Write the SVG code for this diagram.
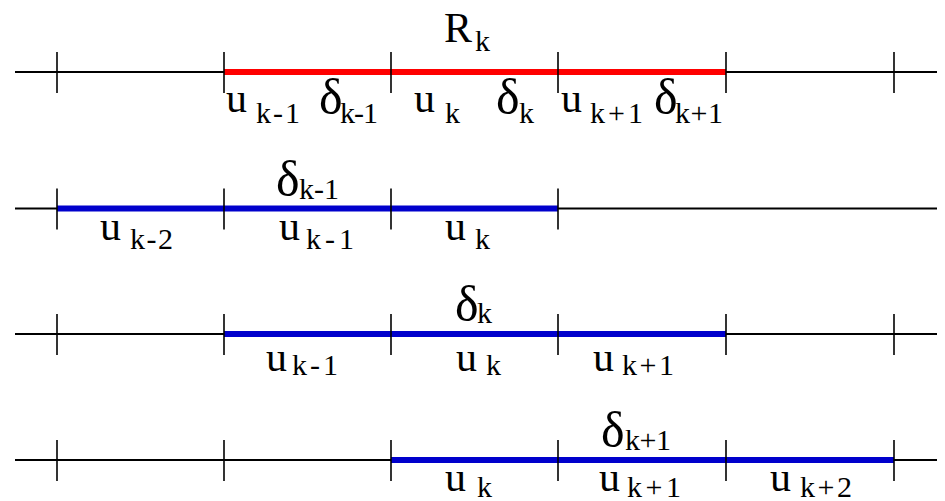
<svg xmlns="http://www.w3.org/2000/svg" width="945" height="501" viewBox="0 0 945 501">
<style>
.axis{stroke:#000;stroke-width:2;fill:none}
.tick{stroke:#000;stroke-width:1.6;fill:none}
.red{stroke:#ff0000;stroke-width:6;fill:none}
.blue{stroke:#0000cc;stroke-width:6;fill:none}
text{font-family:"Times New Roman","Liberation Serif","DejaVu Serif",serif;fill:#000}
.b{font-size:42px}
.d{font-size:50px}
.s{font-size:30px}
</style>
<rect width="945" height="501" fill="#fff"/>
<defs>
<path id="tk" d="M0,-20 V21" class="tick"/>
</defs>

<g id="row1">
<line class="axis" x1="15" y1="72" x2="937" y2="72"/>
<line class="red" x1="224" y1="72" x2="726" y2="72"/>
<use href="#tk" x="57" y="72"/><use href="#tk" x="224" y="72"/><use href="#tk" x="391" y="72"/>
<use href="#tk" x="558" y="72"/><use href="#tk" x="726" y="72"/><use href="#tk" x="894" y="72"/>
<text class="b" x="444" y="42">R</text><text class="s" x="475" y="51">k</text>
<text class="b" x="226" y="112">u</text><text class="s" x="256" y="123" textLength="44" lengthAdjust="spacing">k-1</text>
<text class="d" x="319" y="114">δ</text><text class="s" x="340" y="123" textLength="38" lengthAdjust="spacing">k-1</text>
<text class="b" x="414" y="112">u</text><text class="s" x="445" y="123">k</text>
<text class="d" x="496" y="114">δ</text><text class="s" x="519" y="123">k</text>
<text class="b" x="561" y="112">u</text><text class="s" x="590" y="123" textLength="53" lengthAdjust="spacing">k+1</text>
<text class="d" x="654" y="114">δ</text><text class="s" x="675" y="123" textLength="48" lengthAdjust="spacing">k+1</text>
</g>

<g id="row2">
<line class="axis" x1="15" y1="208.5" x2="937" y2="208.5"/>
<line class="blue" x1="57" y1="208.5" x2="558" y2="208.5"/>
<use href="#tk" x="57" y="208.5"/><use href="#tk" x="224" y="208.5"/><use href="#tk" x="391" y="208.5"/><use href="#tk" x="558" y="208.5"/>
<text class="d" x="276" y="196">δ</text><text class="s" x="299" y="199" textLength="40" lengthAdjust="spacing">k-1</text>
<text class="b" x="100" y="240">u</text><text class="s" x="130" y="249" textLength="43" lengthAdjust="spacing">k-2</text>
<text class="b" x="279" y="240">u</text><text class="s" x="306" y="249" textLength="48" lengthAdjust="spacing">k-1</text>
<text class="b" x="445" y="240">u</text><text class="s" x="475" y="249">k</text>
</g>

<g id="row3">
<line class="axis" x1="15" y1="334" x2="937" y2="334"/>
<line class="blue" x1="224" y1="334" x2="726" y2="334"/>
<use href="#tk" x="57" y="334"/><use href="#tk" x="224" y="334"/><use href="#tk" x="391" y="334"/>
<use href="#tk" x="558" y="334"/><use href="#tk" x="726" y="334"/><use href="#tk" x="894" y="334"/>
<text class="d" x="455" y="321">δ</text><text class="s" x="477" y="323">k</text>
<text class="b" x="266" y="371">u</text><text class="s" x="292" y="375" textLength="46" lengthAdjust="spacing">k-1</text>
<text class="b" x="456" y="371">u</text><text class="s" x="486" y="375">k</text>
<text class="b" x="593" y="371">u</text><text class="s" x="622" y="375" textLength="52" lengthAdjust="spacing">k+1</text>
</g>

<g id="row4">
<line class="axis" x1="15" y1="460" x2="937" y2="460"/>
<line class="blue" x1="391" y1="460" x2="894" y2="460"/>
<use href="#tk" x="57" y="460"/><use href="#tk" x="224" y="460"/><use href="#tk" x="391" y="460"/>
<use href="#tk" x="558" y="460"/><use href="#tk" x="726" y="460"/><use href="#tk" x="894" y="460"/>
<text class="d" x="601" y="447">δ</text><text class="s" x="625" y="450" textLength="46" lengthAdjust="spacing">k+1</text>
<text class="b" x="445" y="491">u</text><text class="s" x="477" y="497">k</text>
<text class="b" x="599" y="491">u</text><text class="s" x="627" y="497" textLength="54" lengthAdjust="spacing">k+1</text>
<text class="b" x="770" y="491">u</text><text class="s" x="800" y="497" textLength="52" lengthAdjust="spacing">k+2</text>
</g>
</svg>
